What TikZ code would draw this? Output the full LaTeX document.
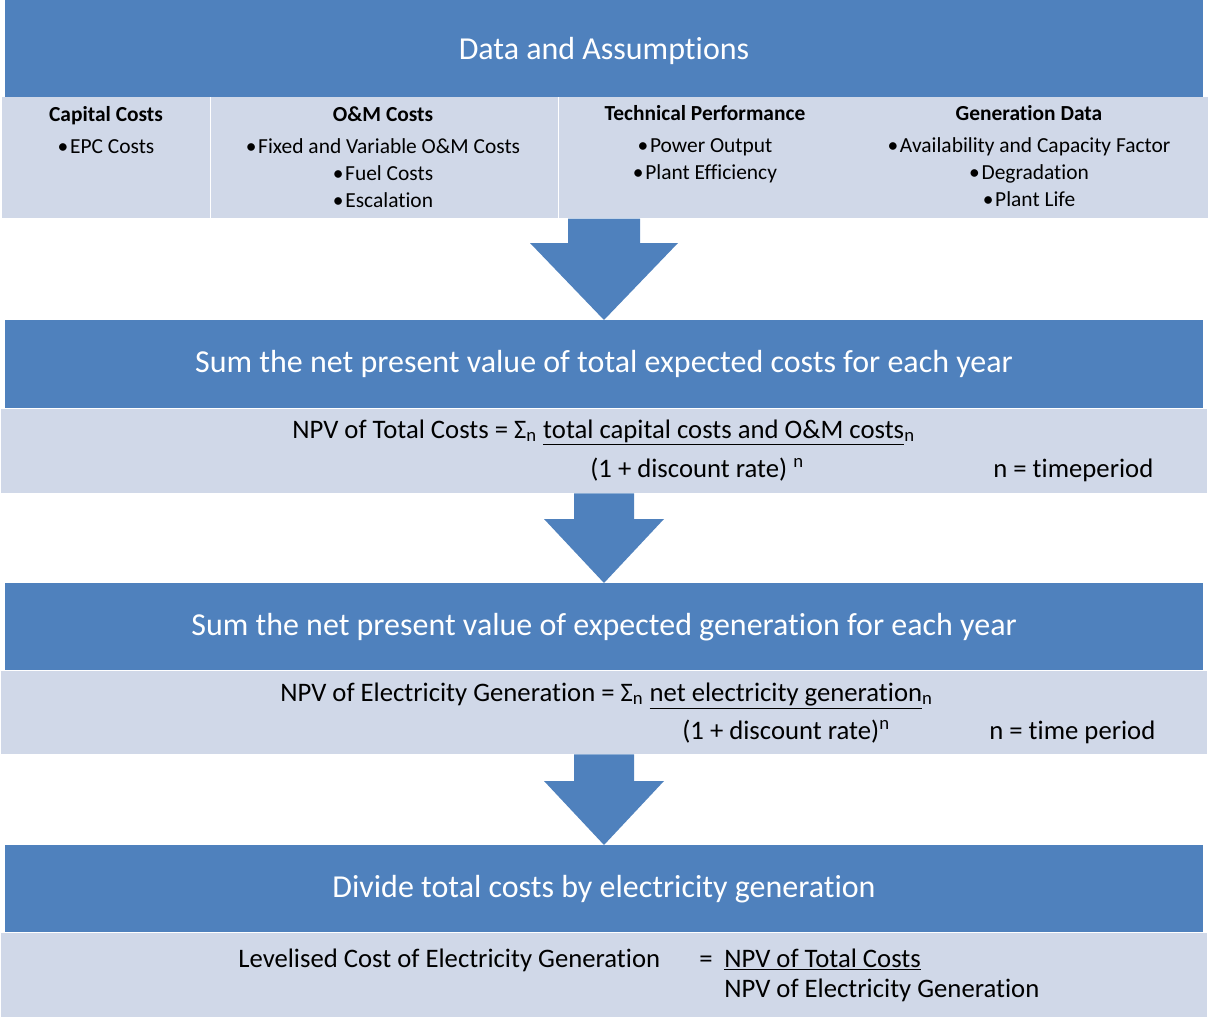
\documentclass[tikz,border=0pt]{standalone}
\usepackage{fontspec}
\setmainfont{Carlito}[Ligatures=NoCommon]
\usetikzlibrary{calc,positioning}

\definecolor{headblue}{HTML}{4F81BD}
\definecolor{paneblue}{HTML}{D0D8E8}

% block arrow pointing down: from, to, shaft half width, head half width, head length
\newcommand{\blockdown}[5]{%
  \fill[headblue] ($(#1)+(-#3,0)$) -- ($(#1)+(#3,0)$) -- ($(#2)+(#3,-#5)$)
    -- ($(#2)+(#4,-#5)$) -- (#2) -- ($(#2)+(-#4,-#5)$) -- ($(#2)+(-#3,-#5)$) -- cycle;}
\newcommand{\bul}{\textbullet\hspace{1pt}}

\begin{document}
\begin{tikzpicture}[x=0.02cm,y=-0.02cm,
  title/.style={fill=headblue,text=white,font=\fontsize{18.2}{21}\selectfont,
    minimum width=23.96cm,inner sep=0pt,anchor=north},
  pane/.style={fill=paneblue,inner sep=0pt},
  item/.style={font=\fontsize{12.2}{15.3}\selectfont,align=center,anchor=north,inner sep=0pt},
  formula/.style={font=\fontsize{15.2}{17}\selectfont,anchor=base west,inner sep=0pt}]
  \useasboundingbox (0,0) rectangle (1208,1017);

  % data and assumptions
  \node[title,minimum height=1.94cm,text depth=0pt] (t1) at (604,0) {Data and Assumptions};
  \node[pane,minimum width=4.16cm,minimum height=2.42cm,anchor=north west] (c1) at (2,97) {};
  \node[pane,minimum width=6.94cm,minimum height=2.42cm,right=0pt of c1] (c2) {};
  \node[pane,minimum width=5.96cm,minimum height=2.42cm,right=0pt of c2] (c3) {};
  \node[pane,minimum width=7.10cm,minimum height=2.42cm,right=0pt of c3] (c4) {};

  \node[item] (cap)  at (106,106) {\textbf{Capital Costs}\\[3pt]\bul EPC Costs};
  \node[item] (om)   at (383,106) {\textbf{O\&M Costs}\\[3pt]\bul Fixed and Variable O\&M Costs\\
                                   \bul Fuel Costs\\\bul Escalation};
  \node[item] (tech) at (705,105) {\textbf{Technical Performance}\\[3pt]\bul Power Output\\
                                   \bul Plant Efficiency};
  \node[item] (gen)  at (1029,105) {\textbf{Generation Data}\\[3pt]\bul Availability and Capacity Factor\\
                                   \bul Degradation\\\bul Plant Life};

  % total costs
  \node[title,minimum height=1.76cm] (t2) at (604,320) {Sum the net present value of total expected costs for each year};
  \node[pane,minimum width=24.12cm,minimum height=1.68cm,below=0pt of t2] (d2) {};
  \node[formula] (f2a) at (292,438) {NPV of Total Costs = Σ\textsubscript{n} \underline{total capital costs and O\&M costs}\textsubscript{n}};
  \node[formula] (f2b) at (590,477) {(1 + discount rate) \textsuperscript{n}};
  \node[formula] (f2c) at (993,477) {n = timeperiod};

  % generation
  \node[title,minimum height=1.74cm] (t3) at (604,583) {Sum the net present value of expected generation for each year};
  \node[pane,minimum width=24.12cm,minimum height=1.66cm,below=0pt of t3] (d3) {};
  \node[formula] (f3a) at (280,701) {NPV of Electricity Generation = Σ\textsubscript{n} \underline{net electricity generation}\textsubscript{n}};
  \node[formula] (f3b) at (682,739) {(1 + discount rate)\textsuperscript{n}};
  \node[formula] (f3c) at (989,739) {n = time period};

  % levelised cost
  \node[title,minimum height=1.74cm] (t4) at (604,845) {Divide total costs by electricity generation};
  \node[pane,minimum width=24.12cm,minimum height=1.70cm,below=0pt of t4] (d4) {};
  \node[formula] (f4a) at (238,967) {Levelised Cost of Electricity Generation};
  \node[formula] (f4b) at (699,967) {=};
  \node[formula] (f4c) at (724,967) {\underline{NPV of Total Costs}};
  \node[formula] (f4d) at (724,997) {NPV of Electricity Generation};

  % arrows
  \coordinate (s1) at (t2.north |- c1.south);
  \coordinate (s2) at (t3.north |- d2.south);
  \coordinate (s3) at (t4.north |- d3.south);
  \blockdown{s1}{t2.north}{36}{74}{77}
  \blockdown{s2}{t3.north}{30}{60}{64}
  \blockdown{s3}{t4.north}{30}{60}{64}
\end{tikzpicture}
\end{document}
